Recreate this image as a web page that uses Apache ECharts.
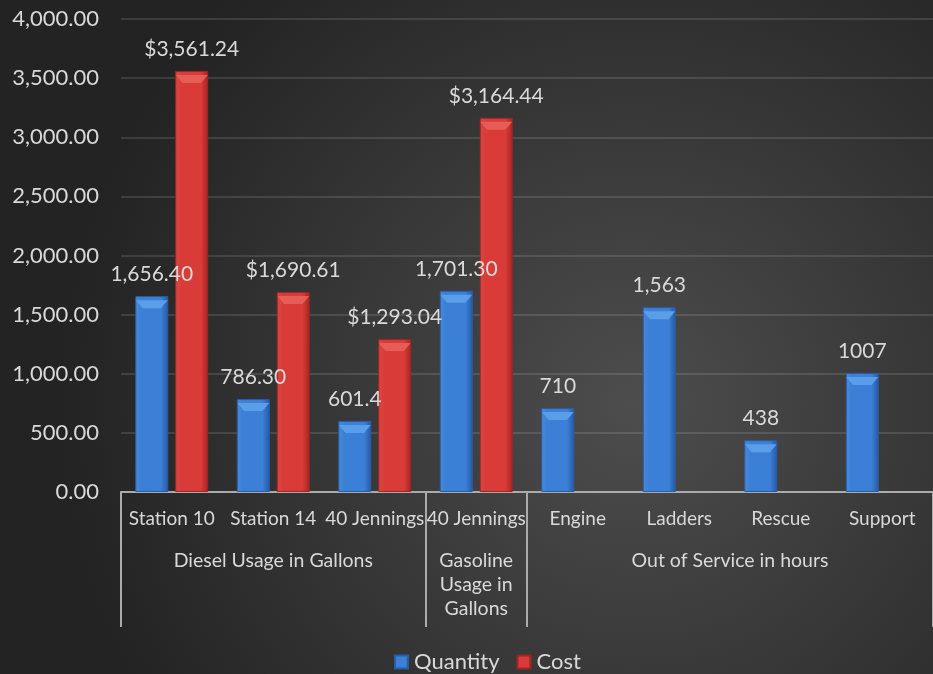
<!DOCTYPE html>
<html><head><meta charset="utf-8">
<script src="https://cdn.jsdelivr.net/npm/echarts@6/dist/echarts.min.js"></script>
<style>html,body{margin:0;padding:0;background:#2a2a2a}#c{width:933px;height:674px}</style>
</head><body><div id="c"></div>
<script>
var categories = ['Station 10','Station 14','40 Jennings','40 Jennings','Engine','Ladders','Rescue','Support'];
var groupLabels = ['Diesel Usage in Gallons','Gasoline\nUsage in\nGallons','Out of Service in hours'];
var groupCenters = [1.5, 3.5, 6];
var groupBounds = [0, 3, 4, 8];
var quantity = [1656.40, 786.30, 601.4, 1701.30, 710, 1563, 438, 1007];
var quantityLabels = ['1,656.40','786.30','601.4','1,701.30','710','1,563','438','1007'];
var cost = [3561.24, 1690.61, 1293.04, 3164.44, null, null, null, null];
var costLabels = ['$3,561.24','$1,690.61','$1,293.04','$3,164.44','','','',''];

var FONT = 'Lato';
var TXT = '#d9d9d9';
function grad(c1,c2,c3){return {type:'linear',x:0,y:0,x2:1,y2:0,colorStops:[{offset:0,color:c1},{offset:0.18,color:c2},{offset:0.78,color:c2},{offset:1,color:c3}]};}
var blue = grad('#4a8ad8','#3b80d6','#2558a4');
var red = grad('#d84844','#d93c38','#a42421');
var bevelPath = 'path://M0,0 L33,0 L26,8 L7,8 Z';

var chart = echarts.init(document.getElementById('c'));
chart.setOption({
  backgroundColor: {type:'radial',x:0.68,y:0.6,r:0.85,colorStops:[{offset:0,color:'#4d4d4d'},{offset:1,color:'#232323'}]},
  textStyle:{fontFamily:FONT},
  grid:{left:121,right:0,top:19,bottom:182,containLabel:false},
  legend:{bottom:-4,left:389,itemWidth:13,itemHeight:13,itemGap:17,icon:'rect',
    textStyle:{color:TXT,fontSize:22,fontFamily:FONT,padding:[0,0,0,1]},data:['Quantity','Cost']},
  xAxis:[{
    type:'category',data:categories,
    axisLine:{show:false},axisTick:{show:false},
    axisLabel:{color:TXT,fontSize:19,fontFamily:FONT,margin:17,interval:0}
  },{
    type:'value',min:0,max:8,position:'bottom',
    splitLine:{show:false},
    axisLine:{show:true,lineStyle:{color:'#ababab',width:2}},
    axisTick:{show:true,customValues:groupBounds,length:135,lineStyle:{color:'#ababab',width:2}},
    axisLabel:{customValues:groupCenters,color:TXT,fontSize:19.5,fontFamily:FONT,margin:57,lineHeight:24,verticalAlign:'top',
      formatter:function(v){var i=groupCenters.indexOf(v);return i>=0?groupLabels[i]:'';}}
  }],
  yAxis:{type:'value',min:0,max:4000,interval:500,
    axisLine:{show:false},axisTick:{show:false},
    splitLine:{lineStyle:{color:'rgba(255,255,255,0.16)',width:1.5}},
    axisLabel:{color:TXT,fontSize:22,fontFamily:FONT,margin:22,
      formatter:function(v){return v.toLocaleString('en-US',{minimumFractionDigits:2,maximumFractionDigits:2});}}},
  series:[{
    name:'Quantity',type:'bar',data:quantity,barWidth:33,barGap:'21%',
    itemStyle:{color:blue,borderColor:'#2a5da8',borderWidth:1},
    label:{show:true,position:'top',distance:11,color:TXT,fontSize:21,fontFamily:FONT,
      formatter:function(p){return quantityLabels[p.dataIndex];}}
  },{
    name:'Cost',type:'bar',data:cost,barWidth:33,
    itemStyle:{color:red,borderColor:'#9e2623',borderWidth:1},
    label:{show:true,position:'top',distance:11,color:TXT,fontSize:21,fontFamily:FONT,
      formatter:function(p){return costLabels[p.dataIndex];}}
  },{
    name:'Quantity',type:'pictorialBar',data:quantity,symbol:bevelPath,symbolSize:[32,8],
    symbolPosition:'end',symbolOffset:[-20,'50%'],z:5,silent:true,
    itemStyle:{color:'#5a9eea'}
  },{
    name:'Cost',type:'pictorialBar',data:cost,symbol:bevelPath,symbolSize:[32,8],
    symbolPosition:'end',symbolOffset:[20,'50%'],z:5,silent:true,
    itemStyle:{color:'#e85c58'}
  }]
});
</script></body></html>
